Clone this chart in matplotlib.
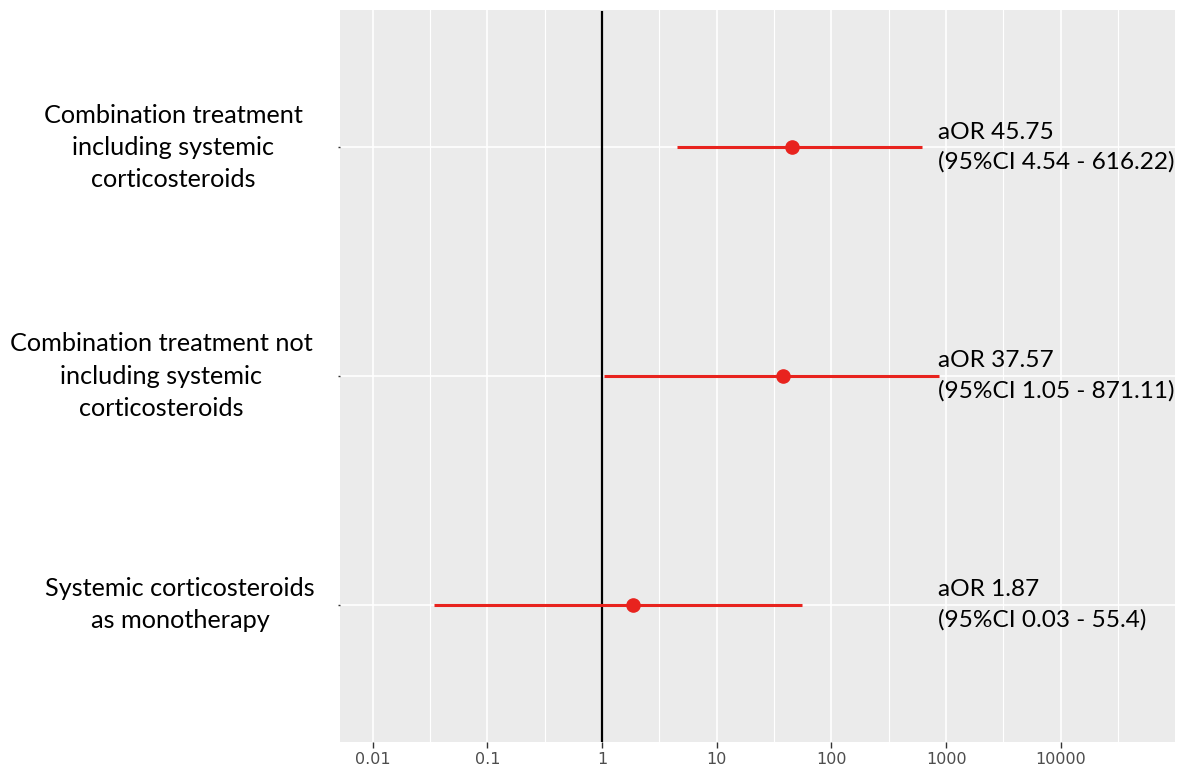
import matplotlib
matplotlib.use("Agg")
import matplotlib.pyplot as plt
import matplotlib.transforms as mtrans
import numpy as np
from matplotlib.ticker import FixedLocator, NullFormatter

# data
labels = ["Combination treatment\nincluding systemic\ncorticosteroids",
          "Combination treatment not\nincluding systemic\ncorticosteroids",
          "Systemic corticosteroids\nas monotherapy"]
aor = [45.75, 37.57, 1.87]
ci_low = [4.54, 1.05, 0.034]
ci_high = [616.22, 871.11, 55.4]
ann = ["aOR 45.75\n(95%CI 4.54 - 616.22)",
       "aOR 37.57\n(95%CI 1.05 - 871.11)",
       "aOR 1.87\n(95%CI 0.03 - 55.4)"]
xticks = [0.01, 0.1, 1, 10, 100, 1000, 10000]
xticklabels = ["0.01", "0.1", "1", "10", "100", "1000", "10000"]

red = "#E8231E"
txt_font = ["Lato", "DejaVu Sans"]

fig = plt.figure(figsize=(11.8, 7.71), dpi=100)
ax = fig.add_axes([340 / 1180, 29 / 771, 835 / 1180, 732 / 771])
ax.set_facecolor("#EBEBEB")
for s in ax.spines.values():
    s.set_visible(False)

ypos = np.arange(len(labels))[::-1] + 1  # top row first

ax.set_xscale("log")
ax.set_xlim(10 ** -2.284, 10 ** 4.996)
ax.set_ylim(0.4, 3.6)

# grid
ax.xaxis.set_major_locator(FixedLocator(xticks))
ax.xaxis.set_minor_locator(FixedLocator(10 ** (np.arange(-3, 5) + 0.5)))
ax.xaxis.set_minor_formatter(NullFormatter())
ax.grid(which="major", axis="both", color="white", lw=1.2)
ax.grid(which="minor", axis="x", color="white", lw=0.8)
ax.set_axisbelow(True)

ax.axvline(1, color="black", lw=1.6, ymax=1 - 2 / 732, zorder=3)

ax.hlines(ypos, ci_low, ci_high, color=red, lw=2.2, zorder=4)
ax.plot(aor, ypos, "o", color=red, ms=9.5, zorder=5)

for y, t in zip(ypos, ann):
    ax.text(850, y, t, ha="left", va="center", fontsize=17.6,
            family=txt_font, linespacing=1.5, color="black")

ax.set_xticklabels(xticklabels, family=["Liberation Sans Narrow", "DejaVu Sans"],
                   fontsize=11.5, color="#4D4D4D")
ax.tick_params(axis="x", which="major", length=4, width=1, color="#333333", pad=3)
ax.tick_params(axis="x", which="minor", length=0)

# y labels drawn as text so each block can sit at its own centre
ax.set_yticks(ypos)
ax.set_yticklabels([""] * len(labels))
ax.tick_params(axis="y", length=1.5, width=1, color="#333333")
label_cx = [173, 161, 180]
trans = mtrans.blended_transform_factory(fig.transFigure, ax.transData)
for y, lab, cx in zip(ypos, labels, label_cx):
    ax.text(cx / 1180, y, lab, transform=trans, ha="center", va="center",
            multialignment="center", fontsize=18.2, family=txt_font,
            linespacing=1.48, color="black")

fig.savefig("out.png", dpi=100)
